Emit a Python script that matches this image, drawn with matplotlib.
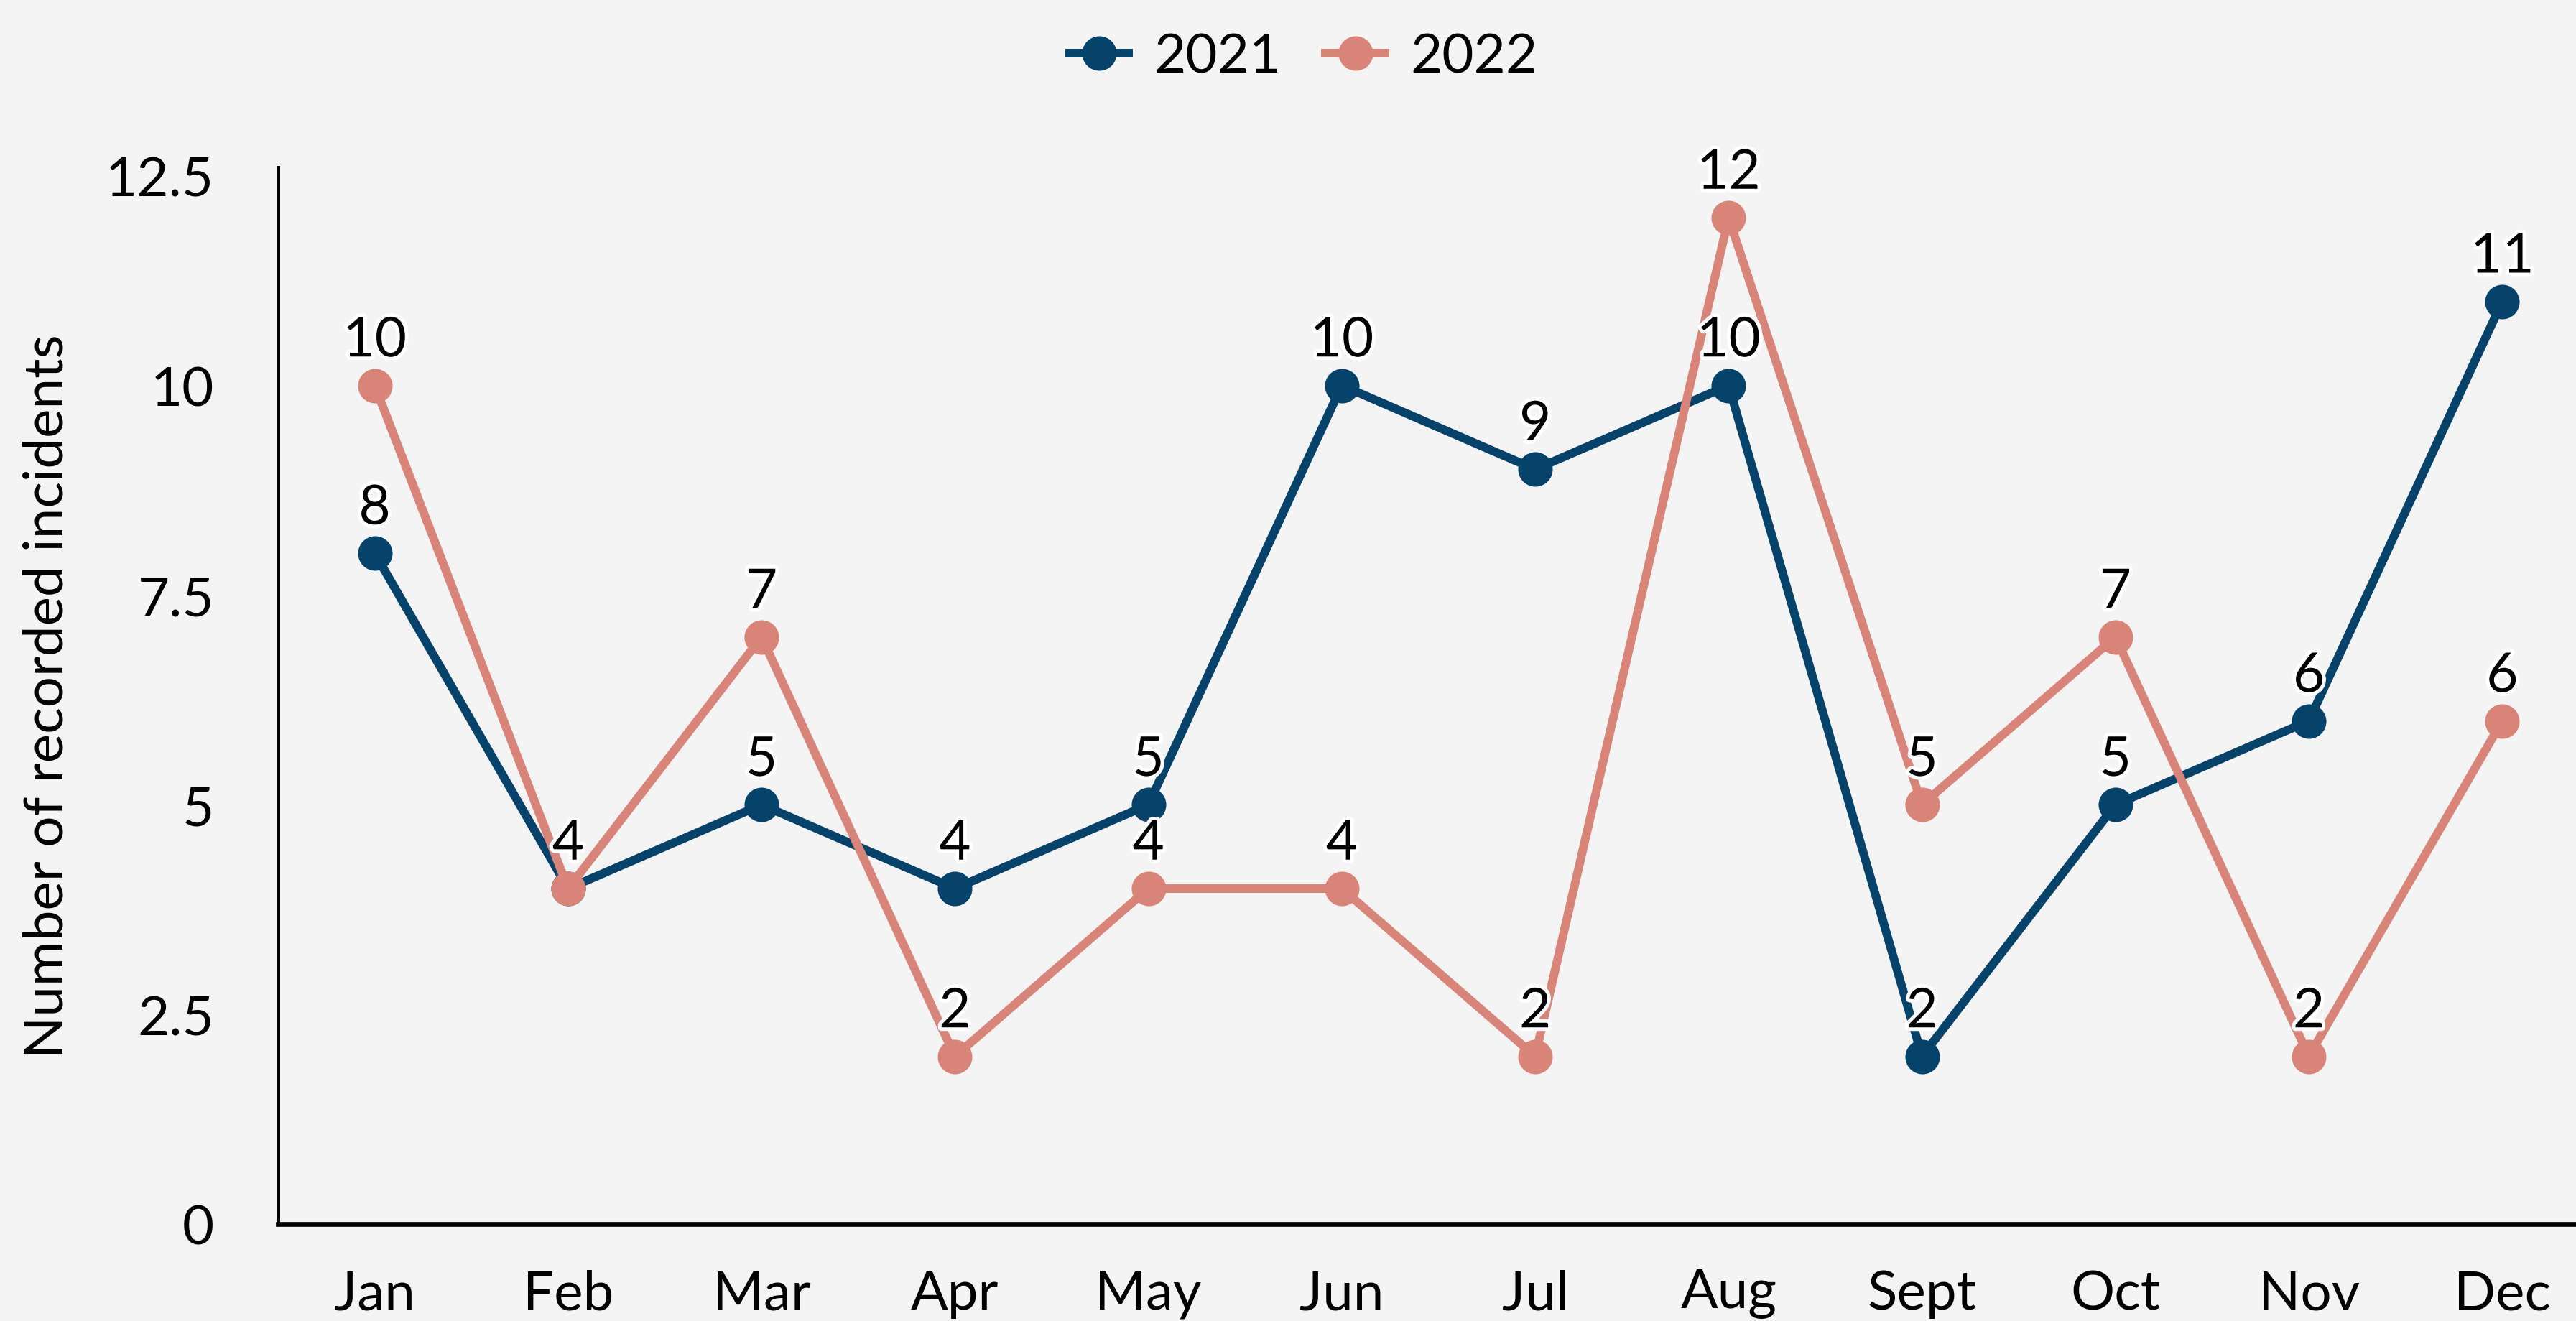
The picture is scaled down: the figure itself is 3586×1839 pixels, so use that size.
import matplotlib
matplotlib.use("Agg")
import matplotlib.pyplot as plt
import matplotlib.patheffects as pe

months = ["Jan", "Feb", "Mar", "Apr", "May", "Jun", "Jul", "Aug", "Sept", "Oct", "Nov", "Dec"]
series_names = ["2021", "2022"]
values_2021 = [8, 4, 5, 4, 5, 10, 9, 10, 2, 5, 6, 11]
values_2022 = [10, 4, 7, 2, 4, 4, 2, 12, 5, 7, 2, 6]
y_ticks = [0, 2.5, 5, 7.5, 10, 12.5]
y_tick_labels = ["0", "2.5", "5", "7.5", "10", "12.5"]
y_label = "Number of recorded incidents"

colors = ["#05436A", "#D88478"]
bg = "#F4F4F4"
FS = 27.5

plt.rcParams["font.family"] = ["Lato", "DejaVu Sans"]

W, H, DPI = 3587, 1840, 200
fig = plt.figure(figsize=(W / DPI, H / DPI), dpi=DPI, facecolor=bg)
left = 387 / W
right_px = 3618
bottom = (H - 1705) / H
top = (H - 234) / H
ax = fig.add_axes([left, bottom, (right_px - 387) / W, top - bottom], facecolor=bg)

x = list(range(len(months)))
lines = []
for name, vals, c in zip(series_names, [values_2021, values_2022], colors):
    ln, = ax.plot(x, vals, color=c, lw=4.3, marker="o", ms=17.3,
                  markeredgewidth=0, label=name, zorder=3, solid_capstyle="butt")
    lines.append(ln)

for vals in [values_2021, values_2022]:
    for xi, v in zip(x, vals):
        t = ax.annotate(str(v), (xi, v), xytext=(0, 14.5), textcoords="offset points",
                        ha="center", va="baseline", fontsize=FS, color="black", zorder=5)
        t.set_path_effects([pe.withStroke(linewidth=3.6, foreground="white")])

ax.set_xlim(-0.5, 11.5)
ax.set_ylim(0, 12.6)
ax.set_xticks(x)
ax.set_xticklabels(months, fontsize=FS)
ax.set_yticks(y_ticks)
ax.set_yticklabels(y_tick_labels, fontsize=FS)
ax.tick_params(axis="x", length=0, pad=22.5)
ax.tick_params(axis="y", length=0, pad=32)
ax.set_ylabel(y_label, fontsize=FS)
for s in ["top", "right"]:
    ax.spines[s].set_visible(False)
ax.spines["left"].set_linewidth(1.8)
ax.spines["bottom"].set_linewidth(2.4)
ax.spines["left"].set_color("black")
ax.spines["bottom"].set_color("black")

fig.legend(handles=lines, labels=series_names, loc="center",
           bbox_to_anchor=(0.505, 1 - 80 / H), ncol=2, frameon=False,
           fontsize=FS, handlelength=1.24, handletextpad=0.38, columnspacing=0.73)

# place y label so its right edge sits ~100 px from the figure's left edge
ax.yaxis.set_label_coords((100 - 387) / (right_px - 387), 0.5)

fig.savefig("out.png", dpi=DPI, facecolor=bg)
